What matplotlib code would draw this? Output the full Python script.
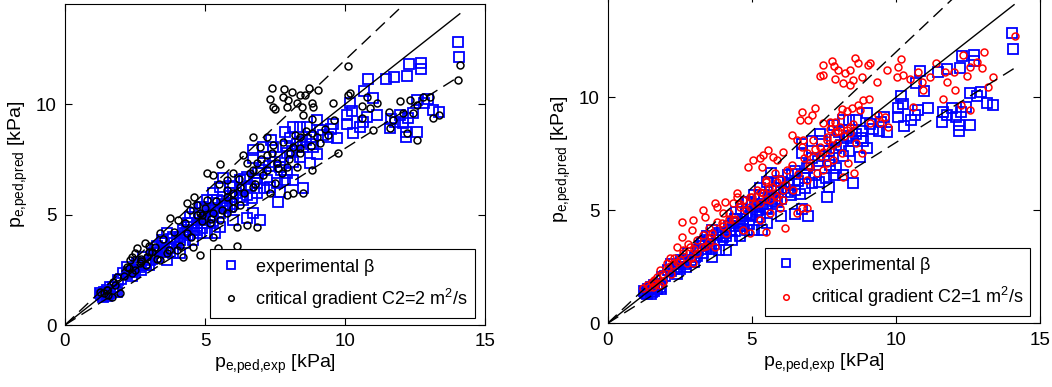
import matplotlib
matplotlib.use("Agg")
import matplotlib.pyplot as plt

plt.rcParams['font.family'] = ['Liberation Sans', 'DejaVu Sans']
plt.rcParams['mathtext.fontset'] = 'custom'
plt.rcParams['mathtext.rm'] = 'Liberation Sans'
plt.rcParams['mathtext.it'] = 'Liberation Sans'

# experimental beta (blue squares), same in both panels
exp_x = [14.02, 14.08, 12.3, 12.7, 12.71, 12.23, 11.76, 11.46, 10.83, 10.69, 10.99, 12.56, 12.95, 12.83,
         13.15, 13.37, 12.44, 12.26, 11.96, 11.63, 11.79, 11.61, 12.08, 12.18, 12.56, 12.18, 11.13, 10.77,
         10.65, 10.54, 10.26, 10.06, 10.06, 10.27, 10.18, 9.58, 9.7, 9.4, 9.11, 8.99, 8.81, 8.63, 8.39,
         8.15, 7.86, 8.04, 8.39, 8.51, 8.87, 8.99, 8.75, 8.39, 8.15, 7.92, 7.68, 7.68, 7.92, 8.15, 7.86,
         7.56, 7.32, 7.68, 7.62, 8.51, 7.35, 7.44, 7.08, 6.73, 6.73, 7.08, 6.9, 7.2, 6.85, 6.49, 6.25,
         6.01, 6.01, 6.37, 6.67, 6.73, 6.96, 6.49, 6.01, 5.89, 5.65, 5.54, 5.3, 5.3, 5.06, 4.82, 5.3,
         5.54, 5.18, 4.94, 4.7, 4.7, 5.06, 5.36, 5.54, 4.35, 4.29, 4.11, 3.87, 3.63, 3.45, 3.27, 3.51,
         3.15, 3.04, 2.8, 2.56, 2.44, 2.68, 2.2, 2.08, 1.9, 1.73, 1.49, 1.25, 1.37, 1.61, 1.85, 3.87,
         3.63, 4.11, 4.58, 4.82, 4.46, 4.64, 4.88, 5.89, 6.25, 6.85, 5.42, 1.3, 1.45, 1.55, 2.3, 2.9,
         3.3, 3.9, 4.4, 5.0, 5.7,
         2.0, 2.2, 2.5, 2.6, 2.9, 3.1, 3.2, 3.4, 3.5, 3.7, 3.8, 4.0, 4.2, 4.4, 4.5, 4.7, 4.8, 5.0, 5.1,
         5.2, 5.4, 5.5, 5.6, 5.8, 5.9, 6.1, 6.3, 6.4, 6.5, 6.6, 6.8, 7.0, 7.1, 7.3, 7.5, 7.7, 7.9, 8.1,
         8.3, 8.6, 8.8, 9.2, 9.5, 1.6, 1.8, 1.4, 1.5, 1.7, 2.4, 2.7, 3.0, 3.3, 3.6, 4.1, 4.3, 4.6, 4.9,
         5.3, 5.7, 6.0]
exp_y = [12.84, 12.13, 11.83, 11.86, 11.6, 11.28, 11.25, 11.13, 11.16, 10.62, 10.3, 10.2, 10.23, 10.05,
         9.74, 9.67, 9.59, 9.37, 9.52, 9.34, 9.21, 8.91, 9.14, 8.76, 8.76, 8.53, 9.52, 9.44, 9.21, 8.99,
         9.7, 9.52, 9.11, 8.72, 10.05, 9.11, 8.46, 8.53, 8.84, 9.29, 8.53, 8.99, 8.99, 8.99, 8.76, 8.46,
         8.31, 8.08, 8.08, 7.75, 7.36, 7.63, 7.4, 7.78, 7.63, 7.18, 6.87, 6.57, 6.57, 6.42, 6.27, 6.04,
         5.59, 6.19, 8.38, 8.08, 8.08, 7.93, 7.55, 7.33, 6.87, 6.57, 6.42, 6.72, 6.57, 6.27, 5.97, 5.66,
         5.74, 5.06, 4.76, 4.83, 4.76, 5.36, 6.65, 6.27, 5.97, 5.66, 5.66, 5.36, 5.21, 5.06, 4.91, 4.76,
         4.61, 4.31, 4.15, 4.15, 4.46, 4.46, 4.15, 3.85, 4.0, 4.15, 3.85, 3.55, 3.47, 3.25, 2.95, 3.1,
         2.79, 2.49, 2.64, 2.64, 2.34, 2.04, 1.74, 1.59, 1.44, 1.28, 1.44, 1.51, 3.25, 2.95, 3.25, 3.85,
         4.15, 4.91, 5.06, 5.36, 5.97, 5.82, 5.97, 5.66, 1.35, 1.5, 1.4, 2.4, 2.7, 3.6, 3.7, 4.6, 5.3,
         5.5,
         2.1, 2.3, 2.4, 2.7, 2.8, 3.0, 3.4, 3.3, 3.7, 3.5, 3.9, 3.8, 4.3, 4.1, 4.6, 4.5, 4.9, 4.8, 5.2,
         5.0, 5.3, 5.1, 5.6, 5.4, 6.3, 6.0, 6.2, 6.6, 5.9, 6.3, 6.6, 7.0, 6.2, 7.2, 7.4, 7.0, 8.1, 7.9,
         8.2, 8.4, 8.2, 8.6, 8.9, 1.7, 1.6, 1.5, 1.3, 1.5, 2.2, 2.5, 2.7, 3.1, 3.3, 4.0, 3.7, 4.3, 4.4,
         4.7, 5.3, 5.5]

# critical gradient C2=2 m^2/s (black circles, left panel)
cg2_x = [14.12, 14.04, 10.12, 7.38, 7.82, 8.1, 8.73, 9.05, 8.39, 8.57, 7.32, 7.44, 7.5, 7.8, 7.98,
         7.92, 8.27, 8.45, 8.81, 8.87, 8.51, 8.81, 9.58, 10.12, 10.18, 10.62, 10.77, 10.89, 11.13,
         11.58, 11.96, 12.32, 12.56, 12.77, 13.04, 13.15, 13.37, 12.44, 12.08, 11.61, 11.73, 12.2,
         12.56, 11.01, 10.6, 9.74, 9.4, 9.11, 8.81, 8.39, 8.15, 8.04, 8.39, 8.81, 8.27, 7.92, 7.74,
         7.56, 7.44, 7.2, 6.73, 6.96, 7.2, 6.85, 6.73, 6.49, 6.37, 6.01, 5.77, 5.54, 5.06, 5.3, 4.7,
         5.06, 4.82, 5.3, 5.18, 5.54, 5.77, 6.01, 6.25, 6.13, 6.49, 6.85, 6.13, 5.48, 4.82, 4.58, 5.3,
         4.35, 4.23, 3.99, 4.05, 3.75, 3.39, 3.21, 2.92, 2.56, 2.5, 2.86, 2.32, 2.2, 2.68, 2.38, 1.85,
         1.73, 1.49, 1.25, 1.67, 1.96, 3.63, 3.39, 4.46, 4.35, 6.01, 6.25, 6.73, 7.32, 7.92, 8.15,
         8.51, 7.08, 7.5, 5.77, 1.4, 1.55, 2.7, 3.0, 4.9,
         1.5, 1.8, 2.1, 2.3, 2.5, 2.7, 2.9, 3.1, 3.3, 3.5, 3.7, 3.9, 4.1, 4.3, 4.5, 4.7, 4.9, 5.0, 5.2,
         5.4, 5.6, 5.8, 6.0, 6.2, 6.4, 6.6, 6.8, 7.0, 7.2, 7.4, 7.6, 7.8, 8.0, 8.2, 8.4, 8.6, 8.8, 9.0,
         9.3, 9.6, 4.6, 5.5, 3.0, 2.4]
cg2_y = [11.78, 11.1, 11.74, 10.73, 10.68, 10.57, 10.73, 10.65, 10.42, 10.42, 10.23, 9.89, 9.77,
         10.35, 10.2, 9.89, 10.05, 9.89, 10.05, 9.89, 9.52, 9.32, 10.08, 10.42, 10.5, 9.92, 10.32,
         9.82, 10.05, 9.67, 10.14, 10.2, 9.97, 10.35, 10.32, 9.37, 9.52, 9.59, 9.59, 8.91, 9.29,
         8.69, 8.38, 8.84, 9.37, 7.78, 8.61, 8.23, 8.69, 8.53, 8.08, 7.78, 7.78, 7.02, 7.18, 7.18,
         6.87, 7.33, 8.16, 8.53, 8.53, 8.08, 7.7, 7.33, 7.0, 7.33, 7.7, 6.87, 6.57, 7.28, 6.87, 6.8,
         5.44, 5.66, 5.06, 5.06, 4.61, 4.76, 5.06, 5.29, 5.44, 4.46, 4.53, 4.46, 3.6, 3.47, 3.17,
         3.55, 4.0, 4.15, 3.1, 3.4, 4.76, 4.83, 4.15, 3.55, 3.1, 3.47, 3.25, 3.7, 2.95, 2.64, 2.79,
         2.34, 2.19, 1.96, 1.59, 1.51, 1.28, 1.44, 3.25, 2.95, 5.21, 5.51, 5.97, 6.27, 6.27, 5.97,
         5.89, 5.97, 6.0, 6.8, 6.42, 5.82, 1.45, 1.35, 2.9, 3.3, 5.0,
         1.6, 1.8, 2.2, 2.6, 2.5, 3.0, 2.7, 3.3, 3.0, 3.9, 3.4, 4.2, 3.6, 4.6, 4.0, 5.0, 4.7, 5.3, 4.8,
         5.6, 5.2, 6.1, 5.6, 6.6, 6.0, 6.9, 6.4, 7.5, 7.0, 7.8, 7.1, 8.3, 7.5, 8.6, 8.0, 8.8, 8.1, 8.5,
         8.9, 9.3, 5.8, 6.4, 3.6, 3.1]

# critical gradient C2=1 m^2/s (red circles, right panel)
cg1_x = [14.13, 13.07, 12.34, 12.8, 12.57, 12.98, 12.45, 13.38, 12.05, 11.65, 12.26, 12.57, 13.21,
         11.39, 11.7, 12.03, 11.76, 11.18, 10.89, 10.78, 10.95, 10.6, 10.18, 10.08, 10.26, 10.03,
         10.49, 9.68, 9.33, 9.1, 9.04, 8.81, 8.58, 8.7, 8.41, 8.24, 8.0, 7.79, 7.85, 7.89, 8.18, 8.41,
         7.46, 7.37, 7.48, 8.5, 8.85, 9.08, 8.7, 8.12, 8.47, 8.76, 9.39, 9.62, 9.73, 9.1, 9.45, 8.81,
         8.53, 8.35, 8.18, 7.71, 7.48, 8.06, 7.89, 8.29, 8.41, 7.6, 7.37, 7.48, 7.71, 7.95, 8.12, 7.83,
         7.6, 7.48, 7.25, 7.02, 6.9, 7.13, 6.79, 6.38, 6.56, 6.73, 6.9, 7.13, 6.73, 7.19, 7.08, 6.96,
         6.68, 6.09, 5.75, 5.57, 5.4, 5.29, 5.05, 4.88, 5.35, 5.8, 5.51, 5.69, 5.4, 5.17, 4.94, 4.71,
         4.48, 4.36, 4.59, 4.94, 5.29, 5.63, 5.86, 6.09, 5.98, 5.63, 5.29, 5.51, 6.15, 6.56, 6.73, 6.9,
         4.94, 4.71, 4.36, 4.01, 3.95, 3.78, 4.07, 3.72, 3.32, 3.38, 2.97, 2.91, 2.57, 2.57, 2.39,
         2.63, 2.86, 3.09, 3.32, 3.61, 3.72, 2.16, 2.51, 2.74, 2.97, 2.05, 1.82, 1.7, 1.53, 1.35,
         1.58, 1.82, 1.93, 1.24, 5.51, 5.86, 6.09, 6.44, 6.21, 5.86, 1.45, 1.65, 2.25, 3.5, 4.2,
         1.6, 1.9, 2.1, 2.3, 2.4, 2.6, 2.8, 3.0, 3.1, 3.3, 3.5, 3.6, 3.8, 4.0, 4.2, 4.4, 4.6, 4.8, 5.0,
         5.1, 5.3, 5.5, 5.6, 5.8, 6.0, 6.2, 6.4, 6.6, 6.8, 7.0, 7.2, 7.4, 7.6, 7.8, 8.0, 8.2, 8.4, 8.6,
         7.7, 7.9, 8.1, 8.3, 8.5, 4.5, 4.1, 3.4, 2.9, 2.2]
cg1_y = [12.73, 12.02, 11.87, 11.58, 11.36, 11.31, 10.94, 10.88, 10.32, 9.91, 9.66, 9.44, 10.47,
         11.5, 11.14, 11.14, 10.66, 10.91, 10.66, 11.14, 10.32, 9.59, 11.68, 11.36, 10.99, 10.91,
         10.81, 11.21, 10.69, 11.5, 11.43, 10.91, 11.76, 11.53, 11.21, 11.06, 11.21, 11.61, 11.39,
         10.8, 10.62, 10.55, 11.43, 10.94, 10.99, 10.77, 9.88, 9.91, 9.66, 9.47, 9.51, 9.44, 9.22,
         9.12, 8.7, 8.85, 8.85, 7.52, 6.67, 7.11, 6.49, 8.92, 8.85, 8.7, 8.48, 8.55, 8.41, 8.26, 7.82,
         7.6, 7.67, 7.96, 7.52, 7.23, 7.08, 6.78, 6.64, 6.93, 6.34, 8.11, 8.11, 8.33, 8.11, 7.82, 7.52,
         7.37, 9.37, 9.51, 9.22, 9.0, 9.0, 7.6, 7.37, 7.67, 7.45, 7.3, 7.23, 6.93, 6.93, 6.64, 6.27,
         6.05, 5.75, 5.9, 5.6, 5.46, 5.75, 5.31, 5.16, 5.16, 5.31, 5.46, 5.6, 5.46, 5.09, 4.87, 4.57,
         4.06, 4.2, 4.87, 5.09, 5.09, 3.98, 4.13, 4.57, 4.87, 4.42, 5.16, 5.38, 5.31, 5.01, 4.72,
         4.57, 4.13, 4.5, 3.83, 3.39, 3.24, 3.39, 3.1, 3.39, 3.98, 3.39, 2.88, 2.8, 2.65, 2.65, 2.65,
         2.36, 2.06, 1.84, 1.7, 1.62, 1.7, 1.84, 1.55, 6.34, 6.27, 5.9, 5.9, 6.78, 7.23, 1.6, 1.75,
         2.6, 3.6, 4.6,
         1.9, 2.2, 2.5, 2.9, 2.7, 3.1, 3.5, 3.3, 3.7, 3.9, 4.2, 3.8, 4.5, 4.3, 4.9, 4.6, 5.3, 5.0, 5.6,
         5.3, 5.8, 5.5, 6.0, 5.7, 6.4, 6.1, 7.0, 6.6, 7.3, 7.0, 7.7, 7.4, 8.1, 7.9, 8.5, 8.3, 8.7, 8.0,
         8.6, 8.9, 9.2, 9.4, 8.8, 5.6, 4.0, 3.4, 2.9, 2.2]

line_x = [0, 14.1]
ratio_hi = 1.2
ratio_lo = 0.8

W, H = 1052, 387
fig = plt.figure(figsize=(W / 100, H / 100), dpi=100)

ymax = 14.53
axL = fig.add_axes([65 / W, 1 - 325 / H, 420 / W, (325 - 4.3) / H])
axR = fig.add_axes([607.7 / W, 1 - 323.3 / H, 432.3 / W, (323.3 + 5) / H])


def panel(ax, cx, cy, ccol, clabel, anchor):
    ax.plot(exp_x, exp_y, linestyle='none', marker='s', markersize=6.5, markerfacecolor='none',
            markeredgecolor='#0000ff', markeredgewidth=1.3, label=r'experimental $\beta$')
    ax.plot(cx, cy, linestyle='none', marker='o', markersize=5, markerfacecolor='none',
            markeredgecolor=ccol, markeredgewidth=1.1, label=clabel)
    ax.plot(line_x, line_x, color='black', lw=1.0)
    ax.plot(line_x, [v * ratio_hi for v in line_x], color='black', lw=1.0, dashes=(9, 5))
    ax.plot(line_x, [v * ratio_lo for v in line_x], color='black', lw=1.0, dashes=(9, 5))
    ax.set_xlim(0, 15)
    ax.set_ylim(0, ymax)
    ax.set_xticks([0, 5, 10, 15])
    ax.set_yticks([0, 5, 10])
    ax.tick_params(direction='in', top=True, right=True, labelsize=13.5, length=5, width=0.8, pad=6)
    for s in ax.spines.values():
        s.set_linewidth(0.8)
    ax.set_xlabel(r'$\mathregular{p_{e{,}ped{,}exp}}$ [kPa]', fontsize=14, labelpad=2)
    ax.set_ylabel(r'$\mathregular{p_{e{,}ped{,}pred}}$ [kPa]', fontsize=14, labelpad=4)
    leg = ax.legend(loc='lower right', fontsize=13, numpoints=1, markerscale=0.8,
                    fancybox=False, edgecolor='black', framealpha=1, borderpad=0.4,
                    handlelength=1.5, handletextpad=0.6, labelspacing=0.5,
                    borderaxespad=0, bbox_to_anchor=anchor)
    leg.get_frame().set_linewidth(0.8)


panel(axL, cg2_x, cg2_y, 'black', r'critical gradient C2=2 m$^2$/s', (0.976, 0.022))
panel(axR, cg1_x, cg1_y, '#ff0000', r'critical gradient C2=1 m$^2$/s', (0.978, 0.022))

fig.savefig('out.png', dpi=100)
